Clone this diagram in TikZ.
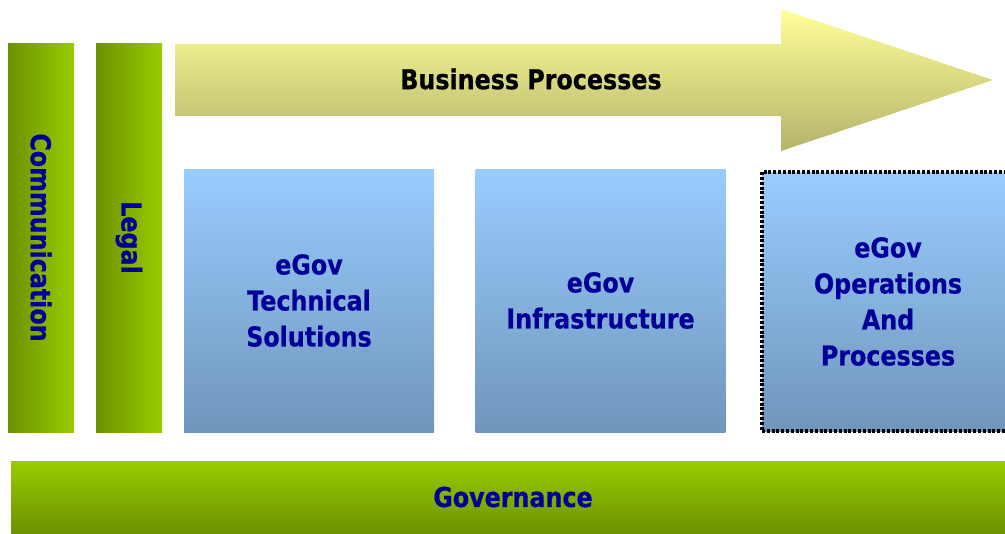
\documentclass[tikz,border=0pt]{standalone}
\usepackage{fontspec}
\setmainfont{DejaVu Sans}
\newfontfamily\lblfont[FakeStretch=0.87,FakeBold=0.6]{DejaVu Sans Bold}
\definecolor{gbright}{RGB}{153,204,0}
\definecolor{gdark}{RGB}{108,145,0}
\definecolor{btop}{RGB}{153,204,255}
\definecolor{bbot}{RGB}{112,150,187}
\definecolor{ytop}{RGB}{255,255,153}
\definecolor{ybot}{RGB}{179,179,107}
\definecolor{navy}{RGB}{0,0,153}
\def\px{0.75pt}
\tikzset{
  lbl/.style={font=\lblfont\fontsize{20.5pt}{27pt}\selectfont, text=navy, align=center},
  vbar/.style={lbl, rotate=-90, minimum width=389*\px, minimum height=66*\px, inner sep=0pt,
    left color=gdark, right color=gbright},
  bluebox/.style={lbl, minimum width=250*\px, minimum height=263*\px, inner sep=0pt,
    top color=btop, bottom color=bbot},
  dotborder/.style={draw=black, line width=2.4pt, dash pattern=on 2.2pt off 1.4pt},
}
\begin{document}
\begin{tikzpicture}[x=0.75pt,y=-0.75pt]
\useasboundingbox (0,0) rectangle (1005,533);
\clip (0,0) rectangle (1005,533);
% side bars
\node[vbar] (comm) at (41,237.5) {Communication};
\node[vbar] (legal) at (129,237.5) {Legal};
% arrow
\shade[top color=ytop, bottom color=ybot]
  (175,44) -- (781,44) -- (781,9) -- (993,80) -- (781,151) -- (781,116) -- (175,116) -- cycle;
\node[lbl, text=black] (bp) at (531,79) {Business Processes};
% boxes
\node[bluebox] (tech) at (309,300.5) {eGov\\Technical\\Solutions};
\node[bluebox] (infra) at (600.5,300.5) {eGov\\Infrastructure};
\node[bluebox, minimum width=252*\px, minimum height=259*\px, dotborder]
  (ops) at (888,301.5) {eGov\\Operations\\And\\Processes};
% governance
\node[lbl, minimum width=1004*\px, minimum height=72*\px, inner sep=0pt,
  top color=gbright, bottom color=gdark] (gov) at (513,497) {Governance};
\end{tikzpicture}
\end{document}
